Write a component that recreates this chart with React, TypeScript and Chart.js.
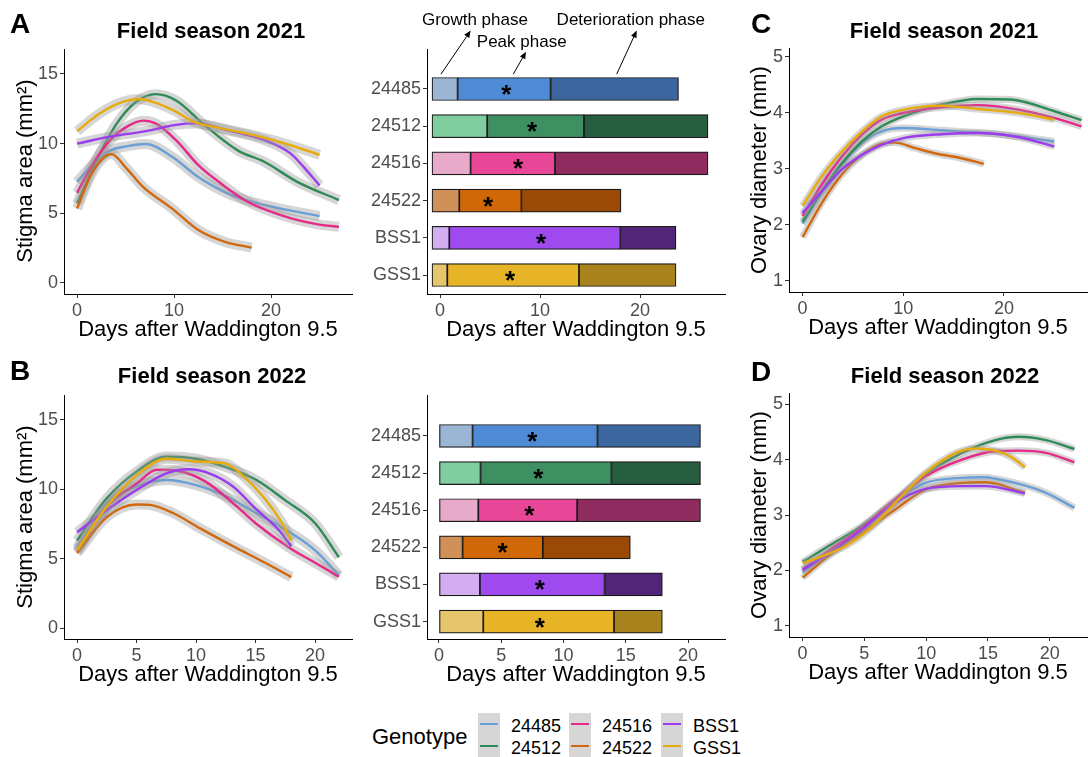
import React, { useEffect, useRef } from 'react';
import { Chart, registerables } from 'chart.js';
Chart.register(...registerables);

const FONT = '"Liberation Sans", Arial, Helvetica, sans-serif';

// ---------- categories & colours ----------
const genotypes = ['24485', '24512', '24516', '24522', 'BSS1', 'GSS1'];
const lineColors = ['#6a9fd8', '#2e8b57', '#e7298a', '#d2670b', '#9b3cf0', '#e8ab0c'];
const barLight = ['#9bb5d5', '#80cda0', '#e8aacb', '#d09158', '#d2aef0', '#e6c66c'];
const barMid = ['#4f8bd4', '#3e8f62', '#e84696', '#d06808', '#9e4aee', '#e6b426'];
const barDark = ['#3b679e', '#275e40', '#902b5f', '#9a4a06', '#522579', '#a8821c'];

// ---------- tick labels ----------
const ticksDays27 = [0, 10, 20];
const ticksDays22 = [0, 5, 10, 15, 20];
const ticksStigma = [0, 5, 10, 15];
const ticksOvary = [1, 2, 3, 4, 5];

// ---------- Panel A: stigma area 2021 [day, mm²] ----------
const s21_24485 = [[0, 7.26], [1.7, 8.55], [3.4, 9.5], [5.1, 9.8], [7.1, 9.97], [9.8, 9.06], [12.5, 7.6], [15.9, 6.3], [19.3, 5.6], [25, 4.8]];
const s21_24512 = [[0, 5.7], [2, 8.8], [4.1, 11.45], [6.1, 13.0], [8.1, 13.55], [10.2, 13.1], [13.2, 11.3], [16.6, 9.5], [19.3, 8.7], [22.7, 7.26], [27, 5.95]];
const s21_24516 = [[0, 6.47], [1.7, 8.6], [3.4, 10.25], [5.1, 11.2], [6.8, 11.65], [8.1, 11.45], [10.2, 10.25], [12.5, 8.46], [14.6, 7.26], [17.3, 5.94], [21, 4.87], [24.7, 4.22], [27, 4.03]];
const s21_24522 = [[0, 5.34], [1.5, 7.85], [3.56, 9.25], [5, 8.3], [6.8, 6.9], [9.8, 5.34], [12.5, 3.8], [15.25, 2.95], [18, 2.54]];
const s21_BSS1 = [[0, 10.0], [3.4, 10.5], [7.1, 10.9], [10.2, 11.35], [12.2, 11.45], [15.9, 10.9], [19.3, 10.26], [22, 9.3], [23.4, 8.3], [25, 7.0]];
const s21_GSS1 = [[0, 10.9], [2.4, 12.2], [4.7, 13.0], [6.4, 13.2], [7.8, 13.0], [10.2, 12.3], [11.9, 11.6], [14.2, 11.2], [17.6, 10.7], [21, 10.1], [25, 9.2]];

// ---------- Panel B: stigma area 2022 ----------
const s22_24485 = [[0, 5.8], [2.5, 9.0], [5, 10.2], [7.5, 10.67], [10, 10.3], [12.5, 9.5], [15, 8.3], [17.5, 7.1], [20, 5.6], [22, 3.8]];
const s22_24512 = [[0, 6.3], [2.5, 9.35], [5, 11.27], [7.5, 12.35], [10, 12.2], [12.5, 11.6], [15, 10.7], [17.5, 9.2], [20, 7.55], [22, 5.1]];
const s22_24516 = [[0, 5.5], [2.5, 8.75], [5, 10.4], [6.7, 11.4], [8.6, 11.3], [10.8, 10.55], [13.1, 9.0], [15, 7.55], [17.9, 5.75], [20, 4.7], [22, 3.7]];
const s22_24522 = [[0, 5.4], [2.5, 8.0], [5, 8.9], [6.1, 8.87], [8.1, 8.27], [10.3, 7.2], [13.1, 5.9], [15.8, 4.7], [18, 3.67]];
const s22_BSS1 = [[0, 6.9], [2.5, 8.5], [5, 9.95], [7.5, 11.15], [9.4, 11.44], [11.1, 11.15], [13.1, 10.2], [15, 8.6], [16.9, 7.1], [18, 5.9]];
const s22_GSS1 = [[0, 5.6], [2.5, 8.75], [5, 11.0], [7.5, 12.2], [10, 12.0], [12.5, 11.85], [13.9, 11.0], [15.8, 9.3], [17.2, 7.6], [18, 6.3]];

// ---------- Panel C: ovary diameter 2021 [day, mm] ----------
const o21_24485 = [[0, 2.02], [1.9, 2.57], [3.9, 3.07], [5.9, 3.46], [7.85, 3.67], [10, 3.73], [13.8, 3.69], [17.4, 3.65], [21.4, 3.58], [25, 3.49]];
const o21_24512 = [[0, 2.06], [1.9, 2.6], [3.9, 3.1], [5.9, 3.49], [7.85, 3.76], [10, 3.94], [13.8, 4.15], [17.4, 4.25], [20.7, 4.24], [25, 4.03], [27.7, 3.87]];
const o21_24516 = [[0, 2.16], [1.9, 2.72], [3.9, 3.22], [5.9, 3.61], [7.85, 3.88], [10, 4.0], [13.8, 4.1], [17.4, 4.14], [21.4, 4.06], [25, 3.91], [27.7, 3.76]];
const o21_24522 = [[0, 1.78], [1.9, 2.39], [3.9, 2.9], [5.9, 3.25], [7.85, 3.45], [9.2, 3.47], [11.2, 3.37], [13.1, 3.28], [15.8, 3.19], [18, 3.09]];
const o21_BSS1 = [[0, 2.21], [1.9, 2.6], [3.9, 2.99], [5.9, 3.25], [7.85, 3.43], [10, 3.55], [13.8, 3.62], [17.4, 3.64], [21.4, 3.57], [25, 3.4]];
const o21_GSS1 = [[0, 2.34], [1.9, 2.87], [3.9, 3.31], [5.9, 3.67], [7.85, 3.94], [10, 4.06], [13.8, 4.13], [17.4, 4.07], [21.4, 4.0], [25, 3.88]];

// ---------- Panel D: ovary diameter 2022 ----------
const o22_24485 = [[0, 1.96], [2.1, 2.32], [4.8, 2.77], [7.5, 3.25], [9.95, 3.58], [12.9, 3.67], [14.5, 3.68], [17.5, 3.56], [19.7, 3.4], [22, 3.13]];
const o22_24512 = [[0, 2.15], [2.1, 2.44], [4.8, 2.8], [7.5, 3.25], [9.95, 3.73], [12.9, 4.12], [15.6, 4.35], [17.5, 4.41], [19.7, 4.35], [22, 4.19]];
const o22_24516 = [[0, 2.02], [2.1, 2.35], [4.8, 2.77], [7.5, 3.28], [9.95, 3.7], [12.9, 4.0], [15.6, 4.15], [17.5, 4.16], [19.7, 4.12], [22, 3.95]];
const o22_24522 = [[0, 1.87], [2.1, 2.26], [4.8, 2.68], [7.5, 3.1], [9.95, 3.46], [12.9, 3.58], [14.8, 3.59], [18, 3.4]];
const o22_BSS1 = [[0, 2.01], [2.1, 2.3], [4.8, 2.74], [7.5, 3.22], [9.95, 3.47], [12.9, 3.52], [14.8, 3.52], [18, 3.39]];
const o22_GSS1 = [[0, 2.13], [1.6, 2.26], [3.5, 2.44], [5.4, 2.74], [7.5, 3.22], [9.95, 3.76], [12.4, 4.12], [14, 4.2], [15.6, 4.16], [17, 4.03], [18, 3.86]];

// ---------- Phase bars (days) ----------
const growthStart2021 = [-0.8, -0.8, -0.8, -0.8, -0.8, -0.8];
const growthEnd2021 = [1.76, 4.72, 3.06, 1.93, 0.93, 0.73];
const peakEnd2021 = [11.06, 14.4, 11.5, 8.14, 18.04, 13.9];
const detEnd2021 = [23.85, 26.8, 26.8, 18.1, 23.6, 23.6];
const star2021 = [6.64, 9.2, 7.8, 4.8, 10.1, 7.0];

const growthStart2022 = [0, 0, 0, 0, 0, 0];
const growthEnd2022 = [2.7, 3.34, 3.16, 1.9, 3.29, 3.56];
const peakEnd2022 = [12.73, 13.85, 11.1, 8.34, 13.3, 14.06];
const detEnd2022 = [21.0, 21.0, 21.0, 15.37, 17.94, 17.94];
const star2022 = [7.5, 7.97, 7.25, 5.1, 8.1, 8.1];

// phase annotations (top bar panel, data coordinates)
const phaseLabels = ['Growth phase', 'Peak phase', 'Deterioration phase'];
const phaseLabelX = [3.5, 8.17, 19.08];
const phaseLabelY = [-0.72, -0.13, -0.72];
const arrowFromX = [0.1, 7.33, 17.67];
const arrowFromY = [0.6, 0.6, 0.6];
const arrowToX = [3.07, 8.6, 19.67];
const arrowToY = [-0.57, 0.0, -0.57];

type TextItem = { text: string; x: number; y: number; size: number; bold?: boolean; align?: CanvasTextAlign; rotate?: number };

function makeTextPlugin(items: TextItem[]) {
  return {
    id: 'panelText',
    afterDraw(chart: any) {
      const ctx: CanvasRenderingContext2D = chart.ctx;
      for (const t of items) {
        ctx.save();
        ctx.font = `${t.bold ? 'bold ' : ''}${t.size}px ${FONT}`;
        ctx.fillStyle = '#000000';
        ctx.textAlign = t.align || 'center';
        ctx.textBaseline = 'alphabetic';
        ctx.translate(t.x, t.y);
        if (t.rotate) ctx.rotate(t.rotate);
        ctx.fillText(t.text, 0, 0);
        ctx.restore();
      }
    },
  };
}

function axis(min: number, max: number, ticks: number[], isX: boolean, size: number, extra: any = {}) {
  return {
    type: 'linear',
    min,
    max,
    offset: false,
    afterBuildTicks: (s: any) => {
      s.ticks = ticks.map((v) => ({ value: v }));
    },
    afterFit: (s: any) => {
      if (isX) s.height = size;
      else s.width = size;
    },
    grid: { display: true, drawOnChartArea: false, drawTicks: true, tickLength: 4, color: '#333333', lineWidth: 1, offset: false },
    border: { display: true, color: '#000000', width: 1 },
    ticks: { color: '#4d4d4d', font: { size: 18, family: FONT }, padding: 2, maxRotation: 0, autoSkip: false },
    ...extra,
  };
}

type LineParams = {
  series: number[][][];
  xMin: number; xMax: number; xTicks: number[];
  yMin: number; yMax: number; yTicks: number[];
  yWidth: number; xHeight: number; padTop: number; padRight: number;
  ribbon: number; texts: TextItem[];
};

function lineConfig(p: LineParams): any {
  const datasets: any[] = [];
  const common = { pointRadius: 0, fill: false, cubicInterpolationMode: 'monotone', tension: 0.4 };
  p.series.forEach((s, gi) => {
    const pts = s.map(([x, y]) => ({ x, y }));
    datasets.push({ ...common, data: pts, borderColor: 'rgba(153,153,153,0.4)', borderWidth: p.ribbon, borderCapStyle: 'butt', order: 2 * (5 - gi) + 1 });
    datasets.push({ ...common, data: pts, borderColor: lineColors[gi], borderWidth: 2.4, borderCapStyle: 'butt', order: 2 * (5 - gi) });
  });
  return {
    type: 'line',
    data: { datasets },
    options: {
      responsive: false,
      animation: false,
      events: [],
      layout: { padding: { top: p.padTop, right: p.padRight, left: 0, bottom: 0 } },
      plugins: { legend: { display: false }, tooltip: { enabled: false }, title: { display: false } },
      scales: {
        x: axis(p.xMin, p.xMax, p.xTicks, true, p.xHeight),
        y: axis(p.yMin, p.yMax, p.yTicks, false, p.yWidth),
      },
    },
    plugins: [makeTextPlugin(p.texts)],
  };
}

type BarParams = {
  start: number[]; growth: number[]; peak: number[]; det: number[]; stars: number[];
  xMin: number; xMax: number; xTicks: number[]; yMin: number; yMax: number;
  padTop: number; texts: TextItem[]; notes: boolean;
};

function makeBarPlugin(p: BarParams) {
  return {
    id: 'barNotes',
    afterDatasetsDraw(chart: any) {
      const { x, y } = chart.scales;
      const ctx: CanvasRenderingContext2D = chart.ctx;
      ctx.save();
      ctx.fillStyle = '#000000';
      ctx.strokeStyle = '#000000';
      ctx.textAlign = 'center';
      ctx.textBaseline = 'alphabetic';
      ctx.font = `bold 26px ${FONT}`;
      p.stars.forEach((sx, i) => {
        ctx.fillText('*', x.getPixelForValue(sx), y.getPixelForValue(i + 1) + 14);
      });
      if (p.notes) {
        ctx.font = `17px ${FONT}`;
        phaseLabels.forEach((t, i) => {
          ctx.fillText(t, x.getPixelForValue(phaseLabelX[i]), y.getPixelForValue(phaseLabelY[i]));
        });
        ctx.lineWidth = 1;
        arrowFromX.forEach((_, i) => {
          const x0 = x.getPixelForValue(arrowFromX[i]);
          const y0 = y.getPixelForValue(arrowFromY[i]);
          const x1 = x.getPixelForValue(arrowToX[i]);
          const y1 = y.getPixelForValue(arrowToY[i]);
          const ang = Math.atan2(y1 - y0, x1 - x0);
          const L = 7, W = 3;
          const bx = x1 - L * Math.cos(ang);
          const by = y1 - L * Math.sin(ang);
          ctx.beginPath();
          ctx.moveTo(x0, y0);
          ctx.lineTo(bx, by);
          ctx.stroke();
          ctx.beginPath();
          ctx.moveTo(x1, y1);
          ctx.lineTo(bx + W * Math.sin(ang), by - W * Math.cos(ang));
          ctx.lineTo(bx - W * Math.sin(ang), by + W * Math.cos(ang));
          ctx.closePath();
          ctx.fill();
        });
      }
      ctx.restore();
    },
  };
}

function barConfig(p: BarParams): any {
  const idx = genotypes.map((_, i) => i + 1);
  const mk = (from: number[], to: number[], colors: string[], order: number) => ({
    data: idx.map((v, i) => ({ y: v, x: [from[i], to[i]] })),
    backgroundColor: colors,
    borderColor: '#1a1a1a',
    borderWidth: 1.2,
    borderSkipped: false,
    barThickness: 23,
    grouped: false,
    order,
  });
  return {
    type: 'bar',
    data: {
      datasets: [
        mk(p.start, p.growth, barLight, 2),
        mk(p.growth, p.peak, barMid, 1),
        mk(p.peak, p.det, barDark, 0),
      ],
    },
    options: {
      indexAxis: 'y',
      responsive: false,
      animation: false,
      events: [],
      layout: { padding: { top: p.padTop, right: 3, left: 0, bottom: 0 } },
      plugins: { legend: { display: false }, tooltip: { enabled: false }, title: { display: false } },
      scales: {
        x: axis(p.xMin, p.xMax, p.xTicks, true, 51),
        y: axis(p.yMin, p.yMax, [1, 2, 3, 4, 5, 6], false, 67, {
          reverse: true,
          ticks: {
            color: '#4d4d4d', font: { size: 18, family: FONT }, padding: 2, maxRotation: 0, autoSkip: false,
            callback: (_v: any, i: number) => genotypes[i],
          },
        }),
      },
    },
    plugins: [makeBarPlugin(p), makeTextPlugin(p.texts)],
  };
}

function ChartBox({ left, top, width, height, config }: { left: number; top: number; width: number; height: number; config: () => any }) {
  const ref = useRef<HTMLCanvasElement | null>(null);
  useEffect(() => {
    if (!ref.current) return;
    const chart = new Chart(ref.current, config());
    return () => chart.destroy();
  }, []);
  return (
    <canvas
      ref={ref}
      width={width}
      height={height}
      style={{ position: 'absolute', left, top, width, height }}
    />
  );
}

const ROT = -Math.PI / 2;

const cfgA = () => lineConfig({
  series: [s21_24485, s21_24512, s21_24516, s21_24522, s21_BSS1, s21_GSS1],
  xMin: -1.35, xMax: 28.35, xTicks: ticksDays27,
  yMin: -0.79, yMax: 16.79, yTicks: ticksStigma,
  yWidth: 64, xHeight: 51, padTop: 49, padRight: 8, ribbon: 10,
  texts: [
    { text: 'A', x: 10, y: 33, size: 28, bold: true, align: 'left' },
    { text: 'Field season 2021', x: 211, y: 38, size: 22, bold: true },
    { text: 'Stigma area (mm²)', x: 32, y: 171, size: 22, rotate: ROT },
    { text: 'Days after Waddington 9.5', x: 208, y: 336, size: 22 },
  ],
});

const cfgB = () => lineConfig({
  series: [s22_24485, s22_24512, s22_24516, s22_24522, s22_BSS1, s22_GSS1],
  xMin: -1.1, xMax: 23.1, xTicks: ticksDays22,
  yMin: -0.79, yMax: 16.79, yTicks: ticksStigma,
  yWidth: 64, xHeight: 51, padTop: 50, padRight: 8, ribbon: 10,
  texts: [
    { text: 'B', x: 10, y: 35, size: 28, bold: true, align: 'left' },
    { text: 'Field season 2022', x: 212, y: 38, size: 22, bold: true },
    { text: 'Stigma area (mm²)', x: 32, y: 172, size: 22, rotate: ROT },
    { text: 'Days after Waddington 9.5', x: 208, y: 336, size: 22 },
  ],
});

const cfgC = () => lineConfig({
  series: [o21_24485, o21_24512, o21_24516, o21_24522, o21_BSS1, o21_GSS1],
  xMin: -1.35, xMax: 28.35, xTicks: ticksDays27,
  yMin: 0.8, yMax: 5.16, yTicks: ticksOvary,
  yWidth: 61, xHeight: 53, padTop: 48, padRight: 0, ribbon: 7,
  texts: [
    { text: 'C', x: 23, y: 33, size: 28, bold: true, align: 'left' },
    { text: 'Field season 2021', x: 216, y: 38, size: 22, bold: true },
    { text: 'Ovary diameter (mm)', x: 38, y: 170, size: 22, rotate: ROT },
    { text: 'Days after Waddington 9.5', x: 210, y: 334, size: 22 },
  ],
});

const cfgD = () => lineConfig({
  series: [o22_24485, o22_24512, o22_24516, o22_24522, o22_BSS1, o22_GSS1],
  xMin: -1.1, xMax: 23.1, xTicks: ticksDays22,
  yMin: 0.8, yMax: 5.2, yTicks: ticksOvary,
  yWidth: 61, xHeight: 53, padTop: 48, padRight: 0, ribbon: 7,
  texts: [
    { text: 'D', x: 23, y: 36, size: 28, bold: true, align: 'left' },
    { text: 'Field season 2022', x: 217, y: 38, size: 22, bold: true },
    { text: 'Ovary diameter (mm)', x: 38, y: 170, size: 22, rotate: ROT },
    { text: 'Days after Waddington 9.5', x: 210, y: 334, size: 22 },
  ],
});

const cfgBarTop = () => barConfig({
  start: growthStart2021, growth: growthEnd2021, peak: peakEnd2021, det: detEnd2021, stars: star2021,
  xMin: -1.3, xMax: 28.5, xTicks: ticksDays27, yMin: -0.075, yMax: 6.51, padTop: 49, notes: true,
  texts: [{ text: 'Days after Waddington 9.5', x: 216, y: 336, size: 22 }],
});

const cfgBarBottom = () => barConfig({
  start: growthStart2022, growth: growthEnd2022, peak: peakEnd2022, det: detEnd2022, stars: star2022,
  xMin: -0.96, xMax: 22.97, xTicks: ticksDays22, yMin: -0.104, yMax: 6.47, padTop: 50, notes: false,
  texts: [{ text: 'Days after Waddington 9.5', x: 216, y: 336, size: 22 }],
});

const legendColX = [478, 569, 661];
const legendLabelX = [511, 602, 693];
const legendRowTop = [713, 735];

function Legend() {
  const items = genotypes.map((g, i) => {
    const col = Math.floor(i / 2);
    const row = i % 2;
    return (
      <React.Fragment key={g}>
        <div style={{ position: 'absolute', left: legendColX[col], top: legendRowTop[row], width: 22, height: 22, background: '#d6d6d6' }}>
          <div style={{ position: 'absolute', left: 2, right: 2, top: 10, height: 2.4, background: lineColors[i] }} />
        </div>
        <div style={{ position: 'absolute', left: legendLabelX[col], top: legendRowTop[row] + 2, font: `18px ${FONT}`, lineHeight: '22px', color: '#000', whiteSpace: 'nowrap' }}>{g}</div>
      </React.Fragment>
    );
  });
  return (
    <>
      <div style={{ position: 'absolute', left: 372, top: 724, font: `22px ${FONT}`, lineHeight: '26px', color: '#000', whiteSpace: 'nowrap' }}>Genotype</div>
      {items}
    </>
  );
}

export default function App() {
  return (
    <div style={{ position: 'absolute', left: 0, top: 0, width: 1088, height: 757, background: '#ffffff', overflow: 'hidden' }}>
      <ChartBox left={0} top={0} width={360} height={345} config={cfgA} />
      <ChartBox left={0} top={345} width={360} height={345} config={cfgB} />
      <ChartBox left={360} top={0} width={368} height={345} config={cfgBarTop} />
      <ChartBox left={360} top={345} width={368} height={345} config={cfgBarBottom} />
      <ChartBox left={728} top={0} width={360} height={345} config={cfgC} />
      <ChartBox left={728} top={345} width={360} height={345} config={cfgD} />
      <Legend />
    </div>
  );
}
